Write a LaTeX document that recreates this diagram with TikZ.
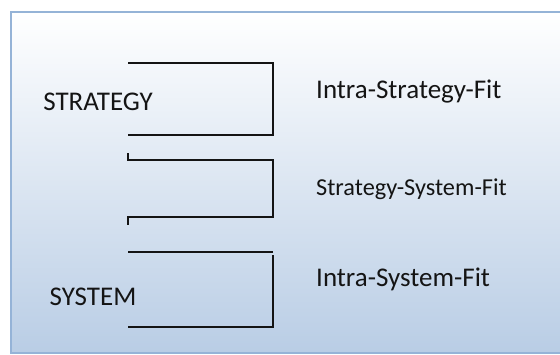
\documentclass[tikz,border=0pt]{standalone}
\usepackage{fontspec}
\setmainfont{Carlito}
\definecolor{framefill}{RGB}{185,205,229}
\definecolor{frameline}{RGB}{149,179,215}
\definecolor{ink}{RGB}{20,20,20}
\begin{document}
\begin{tikzpicture}[x=1pt,y=-1pt,
  bracket/.style={draw=ink,line width=2pt},
  lbl/.style={inner sep=0pt,font=\fontsize{27}{30}\selectfont,text=ink},
  fitlbl/.style={inner sep=0pt,anchor=west,font=\fontsize{27}{30}\selectfont,text=ink}]
\useasboundingbox (0,0) rectangle (560,354);
% background panel with vertical gradient
\shade[top color=white,bottom color=framefill] (11,12) rectangle (562,353);
\draw[frameline,line width=2pt] (562,12) -- (11,12) -- (11,353) -- (562,353);
% level labels
\node[lbl] (strategy) at (98,102) {STRATEGY};
\node[lbl] (system) at (93,297) {SYSTEM};
% fit labels
\node[fitlbl] (intrastrat) at (316,92) {Intra-Strategy-Fit};
\node[fitlbl,font=\fontsize{24.3}{27}\selectfont] (stratsys) at (316,189) {Strategy-System-Fit};
\node[fitlbl] (intrasys) at (316,279) {Intra-System-Fit};
% brackets
\draw[bracket] (128,63) -- (273,63) -- (273,135) -- (128,135);
\draw[bracket] (128,153) -- (128,160) -- (273,160) -- (273,217) -- (128,217) -- (128,225);
\draw[bracket] (128,252) -- (273,252);
\draw[bracket] (273,255) -- (273,327) -- (128,327);
\end{tikzpicture}
\end{document}
